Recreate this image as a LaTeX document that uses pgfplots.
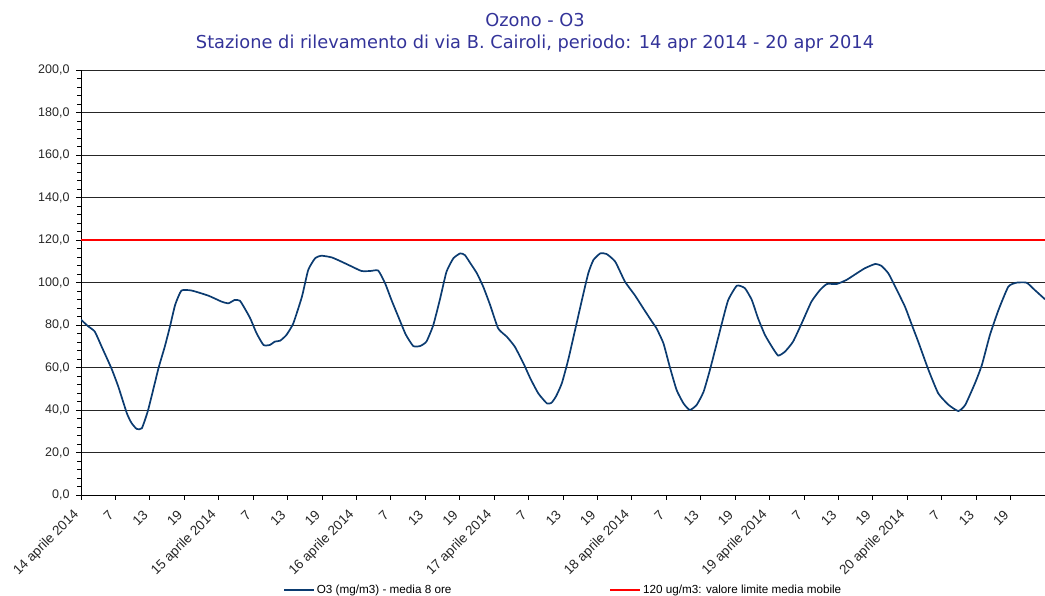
\documentclass[border=0pt]{standalone}
\usepackage{pgfplots}
\pgfplotsset{compat=1.18}
\usepackage{fontspec}
\setmainfont{Liberation Sans}
\newfontfamily\titlefont{DejaVu Sans}
\definecolor{navy}{HTML}{0B3B70}
\definecolor{titleblue}{HTML}{333399}
\begin{document}
\begin{tikzpicture}
\useasboundingbox (0pt,0pt) rectangle (1045pt,596pt);
\node[text=titleblue, font=\titlefont\fontsize{17.8}{20}\selectfont] at (535pt,576pt) {Ozono - O3};
\node[text=titleblue, font=\titlefont\fontsize{17.8}{20}\selectfont] at (535pt,552pt) {Stazione di rilevamento di via B. Cairoli, periodo: 14 apr 2014 - 20 apr 2014};
\begin{axis}[
  at={(81pt,101pt)}, anchor=south west,
  scale only axis, width=964pt, height=425pt,
  xmin=0, xmax=168, ymin=0, ymax=200,
  axis x line=bottom, axis y line=left,
  axis line style={-, black, line width=0.8pt},
  tick align=outside,
  major tick length=5pt, minor tick length=4pt,
  tick style={black, line width=0.8pt},
  ytick={0,20,...,200},
  minor y tick num=4,
  ymajorgrids,
  major grid style={black!85, line width=0.8pt},
  xtick={0,6,...,168},
  xticklabels={14 aprile 2014,7,13,19,15 aprile 2014,7,13,19,16 aprile 2014,7,13,19,17 aprile 2014,7,13,19,18 aprile 2014,7,13,19,19 aprile 2014,7,13,19,20 aprile 2014,7,13,19,{}},
  xticklabel style={rotate=45, anchor=east, inner sep=1pt, xshift=-11pt, yshift=-6pt, font=\fontsize{13.5}{15}\selectfont},
  yticklabel style={xshift=-3pt, font=\fontsize{12.5}{14}\selectfont, /pgf/number format/fixed, /pgf/number format/fixed zerofill, /pgf/number format/precision=1, /pgf/number format/use comma, /pgf/number format/assume math mode=true},
  ticklabel style={text=black!85},
  legend columns=2,
  legend style={draw=none, fill=none, at={(0.2095,-0.2235)}, anchor=west, inner sep=0pt, font=\fontsize{11.7}{13}\selectfont, /tikz/every even column/.append style={column sep=156pt}},
  legend image code/.code={\draw[#1] (0pt,0pt) -- (30pt,0pt);},
  clip=true,
]
\addplot[navy, line width=1.7pt, smooth, tension=0.3] coordinates {
(0.0,82.5) (1.2,79.5) (2.4,76.9) (3.6,69.8) (5.3,59.6) (6.5,51) (8.0,38.4) (8.8,33.9) (9.7,31.1) (10.6,31.4)
(11.7,40) (13.5,59.6) (14.6,69.8) (15.5,79.2) (16.4,89.4) (17.5,96.2) (19.3,96.2) (22.2,93.8) (24.5,91) (25.7,90.2)
(26.8,91.8) (27.7,91.4) (28.6,87.5) (29.5,83.1) (30.6,76.1) (31.8,70.6) (32.9,70.6) (33.8,72.2) (34.7,72.6) (35.8,75.3)
(37.0,80.8) (38.5,93.3) (39.6,105.9) (40.8,111.4) (41.9,112.6) (43.7,111.8) (45.4,109.8) (47.2,107.5) (48.9,105.4) (50.4,105.4)
(51.8,105.6) (53.0,99.6) (54.1,91.8) (55.3,83.9) (56.6,75.5) (57.9,70.1) (59.1,70.1) (60.2,72.2) (61.4,80) (62.6,92.6)
(63.7,105.1) (64.9,111.4) (66.1,113.7) (66.9,112.9) (67.8,109.3) (69.0,104.3) (70.1,98) (71.3,89.4) (72.7,78.4) (74.2,74.5)
(75.6,69.8) (77.1,62) (78.3,54.9) (79.7,47.8) (81.2,43.1) (82.0,43.4) (82.8,46.5) (83.8,52.6) (84.9,63.5) (86.1,77.6)
(87.3,91.8) (88.4,104.3) (89.3,110.6) (90.5,113.7) (91.6,113.4) (93.1,109.8) (94.8,100.4) (96.5,94.1) (98.0,87.8) (99.5,81.6)
(100.3,78.4) (101.5,71.4) (102.6,60.4) (103.8,49.4) (105.0,43.1) (106.1,40) (107.3,42.4) (108.5,48.6) (109.6,58.8) (110.8,71.4)
(111.8,82) (112.8,91.8) (114.3,98.5) (115.7,97.3) (116.9,91.8) (118.0,83.1) (119.2,75.3) (120.4,69.8) (121.5,65.6) (122.7,67.5)
(124.1,72.2) (125.6,80.8) (127.3,91) (128.8,96.5) (130.0,99.3) (131.7,99.3) (133.4,101.2) (134.9,103.8) (136.6,106.7) (138.4,108.7)
(139.5,107.8) (140.7,104.3) (141.9,98) (143.6,88.6) (144.8,80) (145.9,72.2) (147.7,58.8) (149.4,47.8) (151.2,42.4) (152.9,39.5)
(154.1,42.4) (155.8,52.6) (157.0,61.2) (158.4,75.3) (159.9,87.1) (161.6,98) (163.0,99.9) (164.8,99.9) (166.2,96.5) (168.0,92.1)
};
\addlegendentry{O3 (mg/m3) - media 8 ore}
\addplot[red, line width=1.7pt] coordinates {(0,120) (168,120)};
\addlegendentry{120 ug/m3: valore limite media mobile}
\end{axis}
\end{tikzpicture}
\end{document}
